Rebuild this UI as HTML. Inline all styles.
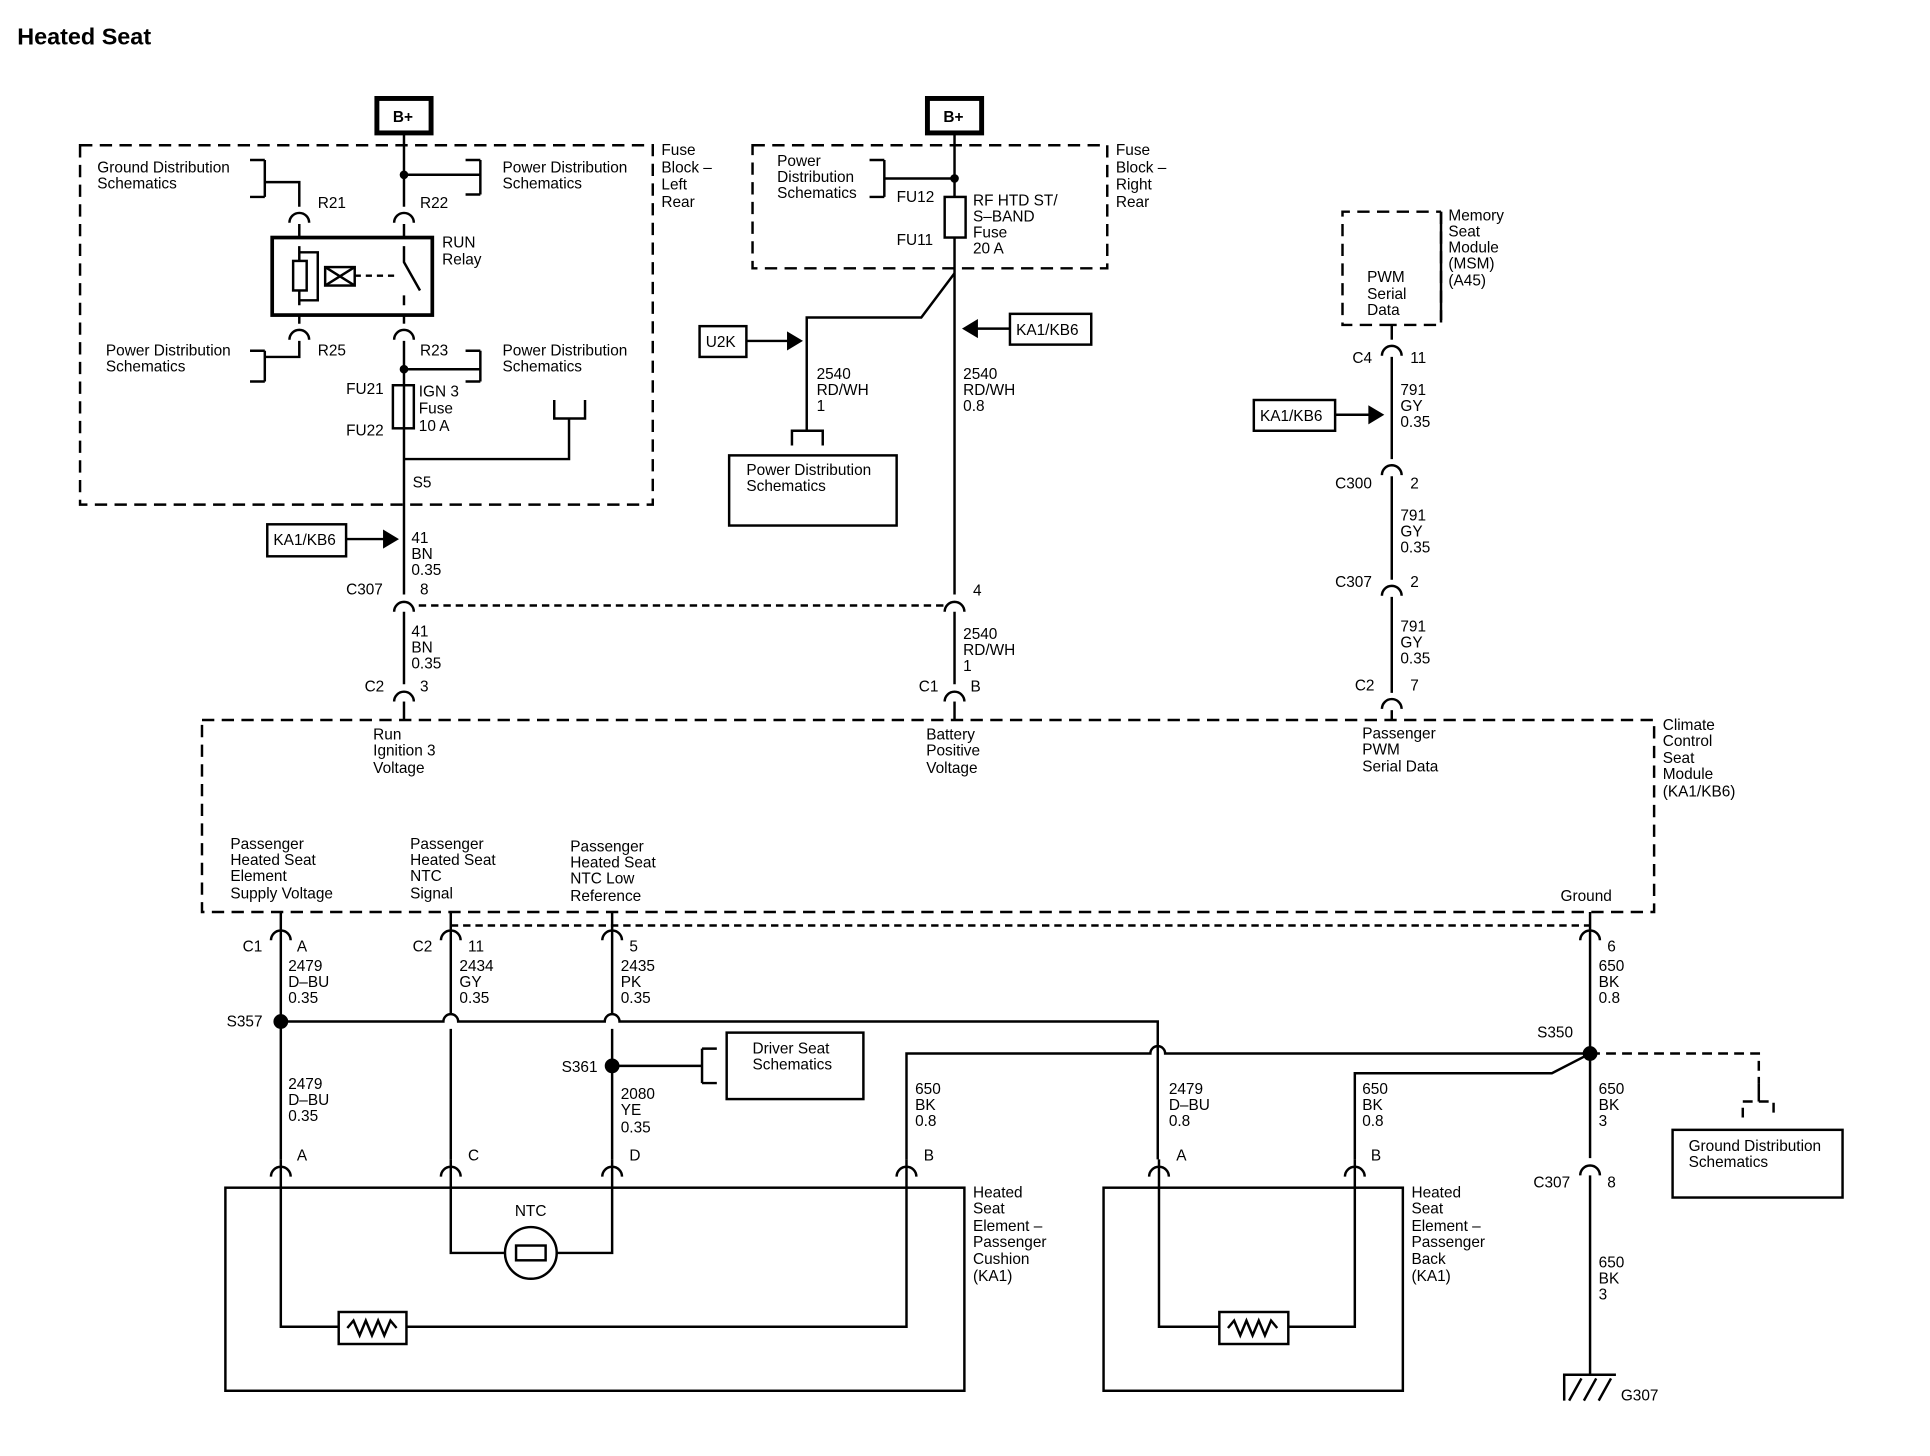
<!DOCTYPE html>
<html><head><meta charset="utf-8"><style>
html,body{margin:0;padding:0;background:#fff;}
svg{display:block;}
text{font-family:"Liberation Sans",Arial,sans-serif;font-size:12.5px;fill:#000;}
.b{font-weight:bold;}
</style></head><body>
<svg width="1930" height="1456" viewBox="0 0 1567 1183" preserveAspectRatio="none" xmlns="http://www.w3.org/2000/svg">
<g stroke="#000" stroke-width="2" fill="none">
<!-- left fuse block -->
<rect x="65" y="118" width="465" height="292" stroke-dasharray="10,6"/>
<rect x="306" y="80" width="44" height="28" stroke-width="4"/>
<line x1="328" y1="108" x2="328" y2="168"/>
<line x1="328" y1="182" x2="328" y2="193"/>
<line x1="328" y1="256" x2="328" y2="263"/>
<line x1="328" y1="277" x2="328" y2="483"/>
<line x1="328" y1="497" x2="328" y2="556"/>
<line x1="328" y1="570" x2="328" y2="585"/>
<path d="M328 142 H390 M390 130 V158 M378 130 H390 M378 158 H390"/>
<path d="M215 130 V160 M203 130 H215 M203 160 H215 M215 148 H243 V168"/>
<path d="M243 182 V193 M243 256 V263 M243 277 V290 H215 M215 285 V310 M203 285 H215 M203 310 H215"/>
<path d="M328 300 H390 M390 285 V310 M378 285 H390 M378 310 H390"/>
<circle cx="328" cy="142" r="2.5" fill="#000"/>
<circle cx="328" cy="300" r="2.5" fill="#000"/>
<rect x="221" y="193" width="130" height="63" stroke-width="3"/>
<rect x="238" y="212" width="11" height="24"/>
<path d="M243 200 V212 M243 236 V248 M243 205 H258 V244 H243"/>
<rect x="264" y="217" width="24" height="15"/>
<path d="M264 217 L288 232 M264 232 L288 217"/>
<path d="M288 224 H320" stroke-dasharray="5,4"/>
<path d="M328 200 V213 L341 236 M328 240 V248"/>
<rect x="319" y="313" width="17" height="35"/>
<path d="M328 373 H462 V340 M450 325 V340 H475 V325"/>
<rect x="217" y="426" width="64" height="26"/>
<path d="M281 438 H312"/>
<path d="M312 432 L322 438 L312 444 Z" fill="#000"/>
<path d="M340 492 H768" stroke-dasharray="6,4"/>
<!-- middle -->
<rect x="611" y="118" width="288" height="100" stroke-dasharray="10,6"/>
<rect x="753" y="80" width="44" height="28" stroke-width="4"/>
<line x1="775" y1="108" x2="775" y2="160"/>
<line x1="775" y1="193" x2="775" y2="483"/>
<line x1="775" y1="497" x2="775" y2="556"/>
<line x1="775" y1="570" x2="775" y2="585"/>
<rect x="767" y="160" width="17" height="33"/>
<circle cx="775" cy="145" r="2.5" fill="#000"/>
<path d="M718 145 H775 M718 130 V160 M706 130 H718 M706 160 H718"/>
<path d="M775 222 L748 258 H655 V350 M643 362 V350 H668 V362"/>
<rect x="592" y="370" width="136" height="57"/>
<rect x="568" y="265" width="38" height="25"/>
<path d="M606 277 H640"/><path d="M640 271 L650 277 L640 283 Z" fill="#000"/>
<rect x="820" y="255" width="66" height="25"/>
<path d="M820 267 H793"/><path d="M793 261 L783 267 L793 273 Z" fill="#000"/>
<!-- right -->
<path d="M1130 264 H1090 V172 H1170 M1170 172 V264 H1130" stroke-dasharray="10,6"/>
<path d="M1170 172 V260"/>
<line x1="1130" y1="264" x2="1130" y2="276"/>
<line x1="1130" y1="290" x2="1130" y2="373"/>
<line x1="1130" y1="387" x2="1130" y2="471"/>
<line x1="1130" y1="485" x2="1130" y2="563"/>
<line x1="1130" y1="577" x2="1130" y2="585"/>
<rect x="1018" y="325" width="66" height="25"/>
<path d="M1084 337 H1112"/><path d="M1112 331 L1122 337 L1112 343 Z" fill="#000"/>
<!-- connectors -->
<path d="M320 181 A8 8 0 0 1 336 181 M235 181 A8 8 0 0 1 251 181 M235 276 A8 8 0 0 1 251 276 M320 276 A8 8 0 0 1 336 276"/>
<path d="M320 497 A8 8 0 0 1 336 497 M320 570 A8 8 0 0 1 336 570 M767 497 A8 8 0 0 1 783 497 M767 570 A8 8 0 0 1 783 570"/>
<path d="M1122 289 A8 8 0 0 1 1138 289 M1122 386 A8 8 0 0 1 1138 386 M1122 484 A8 8 0 0 1 1138 484 M1122 576 A8 8 0 0 1 1138 576"/>
<!-- climate box -->
<rect x="164" y="585" width="1179" height="156" stroke-dasharray="10,6"/>
<path d="M366 752 H1291" stroke-dasharray="6,4"/>
<path d="M220 764 A8 8 0 0 1 236 764 M358 764 A8 8 0 0 1 374 764 M489 764 A8 8 0 0 1 505 764 M1283 764 A8 8 0 0 1 1299 764"/>
<line x1="228" y1="741" x2="228" y2="942"/>
<line x1="366" y1="741" x2="366" y2="824"/>
<line x1="366" y1="836" x2="366" y2="942"/>
<line x1="497" y1="741" x2="497" y2="824"/>
<line x1="497" y1="836" x2="497" y2="942"/>
<line x1="1291" y1="741" x2="1291" y2="941"/>
<line x1="1291" y1="955" x2="1291" y2="1117"/>
<path d="M228 830 H360 A6 6 0 0 1 372 830 H491 A6 6 0 0 1 503 830 H940 V942"/>
<circle cx="228" cy="830" r="5" fill="#000"/>
<circle cx="497" cy="866" r="5" fill="#000"/>
<path d="M497 866 H570 M570 852 V880 M570 852 H582 M570 880 H582"/>
<rect x="590" y="839" width="111" height="54"/>
<path d="M736 942 V856 H934 A6 6 0 0 1 946 856 H1291"/>
<circle cx="1291" cy="856" r="5" fill="#000"/>
<path d="M1291 856 L1260 872 H1100 V942"/>
<path d="M1291 856 H1428 V880 M1415 908 V895 H1440 V908" stroke-dasharray="8,5"/>
<path d="M1428 880 V895"/>
<rect x="1358" y="918" width="138" height="55"/>
<path d="M1283 955 A8 8 0 0 1 1299 955"/>
<path d="M1270 1138 V1117 H1312 M1274 1138 L1284 1120 M1286 1138 L1296 1120 M1298 1138 L1308 1120"/>
<!-- cushion -->
<rect x="183" y="965" width="600" height="165"/>
<path d="M220 956 A8 8 0 0 1 236 956 M358 956 A8 8 0 0 1 374 956 M489 956 A8 8 0 0 1 505 956 M728 956 A8 8 0 0 1 744 956"/>
<path d="M228 942 V1078 H275 M330 1078 H736 V942"/>
<rect x="275" y="1066" width="55" height="26"/>
<path d="M282 1079 L287 1073 L292 1085 L297 1073 L302 1085 L307 1073 L312 1085 L317 1073 L322 1079"/>
<path d="M366 942 V1018 H410 M452 1018 H497 V942"/>
<circle cx="431" cy="1018" r="21"/>
<rect x="419" y="1012" width="24" height="12"/>
<!-- back -->
<rect x="896" y="965" width="243" height="165"/>
<path d="M933 956 A8 8 0 0 1 949 956 M1092 956 A8 8 0 0 1 1108 956"/>
<path d="M941 942 V1078 H990 M1046 1078 H1100 V942"/>
<rect x="990" y="1066" width="56" height="26"/>
<path d="M997 1079 L1002 1073 L1007 1085 L1012 1073 L1017 1085 L1022 1073 L1027 1085 L1032 1073 L1037 1079"/>
</g>
<g>
<text x="14" y="36" class="b" style="font-size:19px">Heated Seat</text>
<text x="319" y="99" class="b">B+</text>
<text x="766" y="99" class="b">B+</text>
<text x="537" y="126">Fuse</text><text x="537" y="140">Block –</text><text x="537" y="154">Left</text><text x="537" y="168">Rear</text>
<text x="79" y="140">Ground Distribution</text><text x="79" y="153">Schematics</text>
<text x="408" y="140">Power Distribution</text><text x="408" y="153">Schematics</text>
<text x="258" y="169">R21</text><text x="341" y="169">R22</text>
<text x="359" y="201">RUN</text><text x="359" y="215">Relay</text>
<text x="86" y="289">Power Distribution</text><text x="86" y="302">Schematics</text>
<text x="258" y="289">R25</text><text x="341" y="289">R23</text>
<text x="408" y="289">Power Distribution</text><text x="408" y="302">Schematics</text>
<text x="281" y="320">FU21</text><text x="281" y="354">FU22</text>
<text x="340" y="322">IGN 3</text><text x="340" y="336">Fuse</text><text x="340" y="350">10 A</text>
<text x="335" y="396">S5</text>
<text x="222" y="443">KA1/KB6</text>
<text x="334" y="441">41</text><text x="334" y="454">BN</text><text x="334" y="467">0.35</text>
<text x="281" y="483">C307</text><text x="341" y="483">8</text>
<text x="334" y="517">41</text><text x="334" y="530">BN</text><text x="334" y="543">0.35</text>
<text x="296" y="562">C2</text><text x="341" y="562">3</text>
<text x="906" y="126">Fuse</text><text x="906" y="140">Block –</text><text x="906" y="154">Right</text><text x="906" y="168">Rear</text>
<text x="631" y="135">Power</text><text x="631" y="148">Distribution</text><text x="631" y="161">Schematics</text>
<text x="728" y="164">FU12</text><text x="728" y="199">FU11</text>
<text x="790" y="167">RF HTD ST/</text><text x="790" y="180">S–BAND</text><text x="790" y="193">Fuse</text><text x="790" y="206">20 A</text>
<text x="573" y="282">U2K</text>
<text x="825" y="272">KA1/KB6</text>
<text x="663" y="308">2540</text><text x="663" y="321">RD/WH</text><text x="663" y="334">1</text>
<text x="782" y="308">2540</text><text x="782" y="321">RD/WH</text><text x="782" y="334">0.8</text>
<text x="606" y="386">Power Distribution</text><text x="606" y="399">Schematics</text>
<text x="790" y="484">4</text>
<text x="782" y="519">2540</text><text x="782" y="532">RD/WH</text><text x="782" y="545">1</text>
<text x="746" y="562">C1</text><text x="788" y="562">B</text>
<text x="1176" y="179">Memory</text><text x="1176" y="192">Seat</text><text x="1176" y="205">Module</text><text x="1176" y="218">(MSM)</text><text x="1176" y="232">(A45)</text>
<text x="1110" y="229">PWM</text><text x="1110" y="243">Serial</text><text x="1110" y="256">Data</text>
<text x="1098" y="295">C4</text><text x="1145" y="295">11</text>
<text x="1023" y="342">KA1/KB6</text>
<text x="1137" y="321">791</text><text x="1137" y="334">GY</text><text x="1137" y="347">0.35</text>
<text x="1084" y="397">C300</text><text x="1145" y="397">2</text>
<text x="1137" y="423">791</text><text x="1137" y="436">GY</text><text x="1137" y="449">0.35</text>
<text x="1084" y="477">C307</text><text x="1145" y="477">2</text>
<text x="1137" y="513">791</text><text x="1137" y="526">GY</text><text x="1137" y="539">0.35</text>
<text x="1100" y="561">C2</text><text x="1145" y="561">7</text>
<text x="1350" y="593">Climate</text><text x="1350" y="606">Control</text><text x="1350" y="620">Seat</text><text x="1350" y="633">Module</text><text x="1350" y="647">(KA1/KB6)</text>
<text x="303" y="601">Run</text><text x="303" y="614">Ignition 3</text><text x="303" y="628">Voltage</text>
<text x="752" y="601">Battery</text><text x="752" y="614">Positive</text><text x="752" y="628">Voltage</text>
<text x="1106" y="600">Passenger</text><text x="1106" y="613">PWM</text><text x="1106" y="627">Serial Data</text>
<text x="187" y="690">Passenger</text><text x="187" y="703">Heated Seat</text><text x="187" y="716">Element</text><text x="187" y="730">Supply Voltage</text>
<text x="333" y="690">Passenger</text><text x="333" y="703">Heated Seat</text><text x="333" y="716">NTC</text><text x="333" y="730">Signal</text>
<text x="463" y="692">Passenger</text><text x="463" y="705">Heated Seat</text><text x="463" y="718">NTC Low</text><text x="463" y="732">Reference</text>
<text x="1267" y="732">Ground</text>
<text x="197" y="773">C1</text><text x="241" y="773">A</text>
<text x="335" y="773">C2</text><text x="380" y="773">11</text>
<text x="511" y="773">5</text>
<text x="1305" y="773">6</text>
<text x="234" y="789">2479</text><text x="234" y="802">D–BU</text><text x="234" y="815">0.35</text>
<text x="373" y="789">2434</text><text x="373" y="802">GY</text><text x="373" y="815">0.35</text>
<text x="504" y="789">2435</text><text x="504" y="802">PK</text><text x="504" y="815">0.35</text>
<text x="1298" y="789">650</text><text x="1298" y="802">BK</text><text x="1298" y="815">0.8</text>
<text x="184" y="834">S357</text>
<text x="1248" y="843">S350</text>
<text x="456" y="871">S361</text>
<text x="611" y="856">Driver Seat</text><text x="611" y="869">Schematics</text>
<text x="234" y="885">2479</text><text x="234" y="898">D–BU</text><text x="234" y="911">0.35</text>
<text x="504" y="893">2080</text><text x="504" y="906">YE</text><text x="504" y="920">0.35</text>
<text x="743" y="889">650</text><text x="743" y="902">BK</text><text x="743" y="915">0.8</text>
<text x="949" y="889">2479</text><text x="949" y="902">D–BU</text><text x="949" y="915">0.8</text>
<text x="1106" y="889">650</text><text x="1106" y="902">BK</text><text x="1106" y="915">0.8</text>
<text x="1298" y="889">650</text><text x="1298" y="902">BK</text><text x="1298" y="915">3</text>
<text x="1371" y="935">Ground Distribution</text><text x="1371" y="948">Schematics</text>
<text x="241" y="943">A</text><text x="380" y="943">C</text><text x="511" y="943">D</text><text x="750" y="943">B</text>
<text x="955" y="943">A</text><text x="1113" y="943">B</text>
<text x="1245" y="965">C307</text><text x="1305" y="965">8</text>
<text x="790" y="973">Heated</text><text x="790" y="986">Seat</text><text x="790" y="1000">Element –</text><text x="790" y="1013">Passenger</text><text x="790" y="1027">Cushion</text><text x="790" y="1041">(KA1)</text>
<text x="1146" y="973">Heated</text><text x="1146" y="986">Seat</text><text x="1146" y="1000">Element –</text><text x="1146" y="1013">Passenger</text><text x="1146" y="1027">Back</text><text x="1146" y="1041">(KA1)</text>
<text x="418" y="988">NTC</text>
<text x="1298" y="1030">650</text><text x="1298" y="1043">BK</text><text x="1298" y="1056">3</text>
<text x="1316" y="1138">G307</text>
</g>
</svg>
</body></html>
